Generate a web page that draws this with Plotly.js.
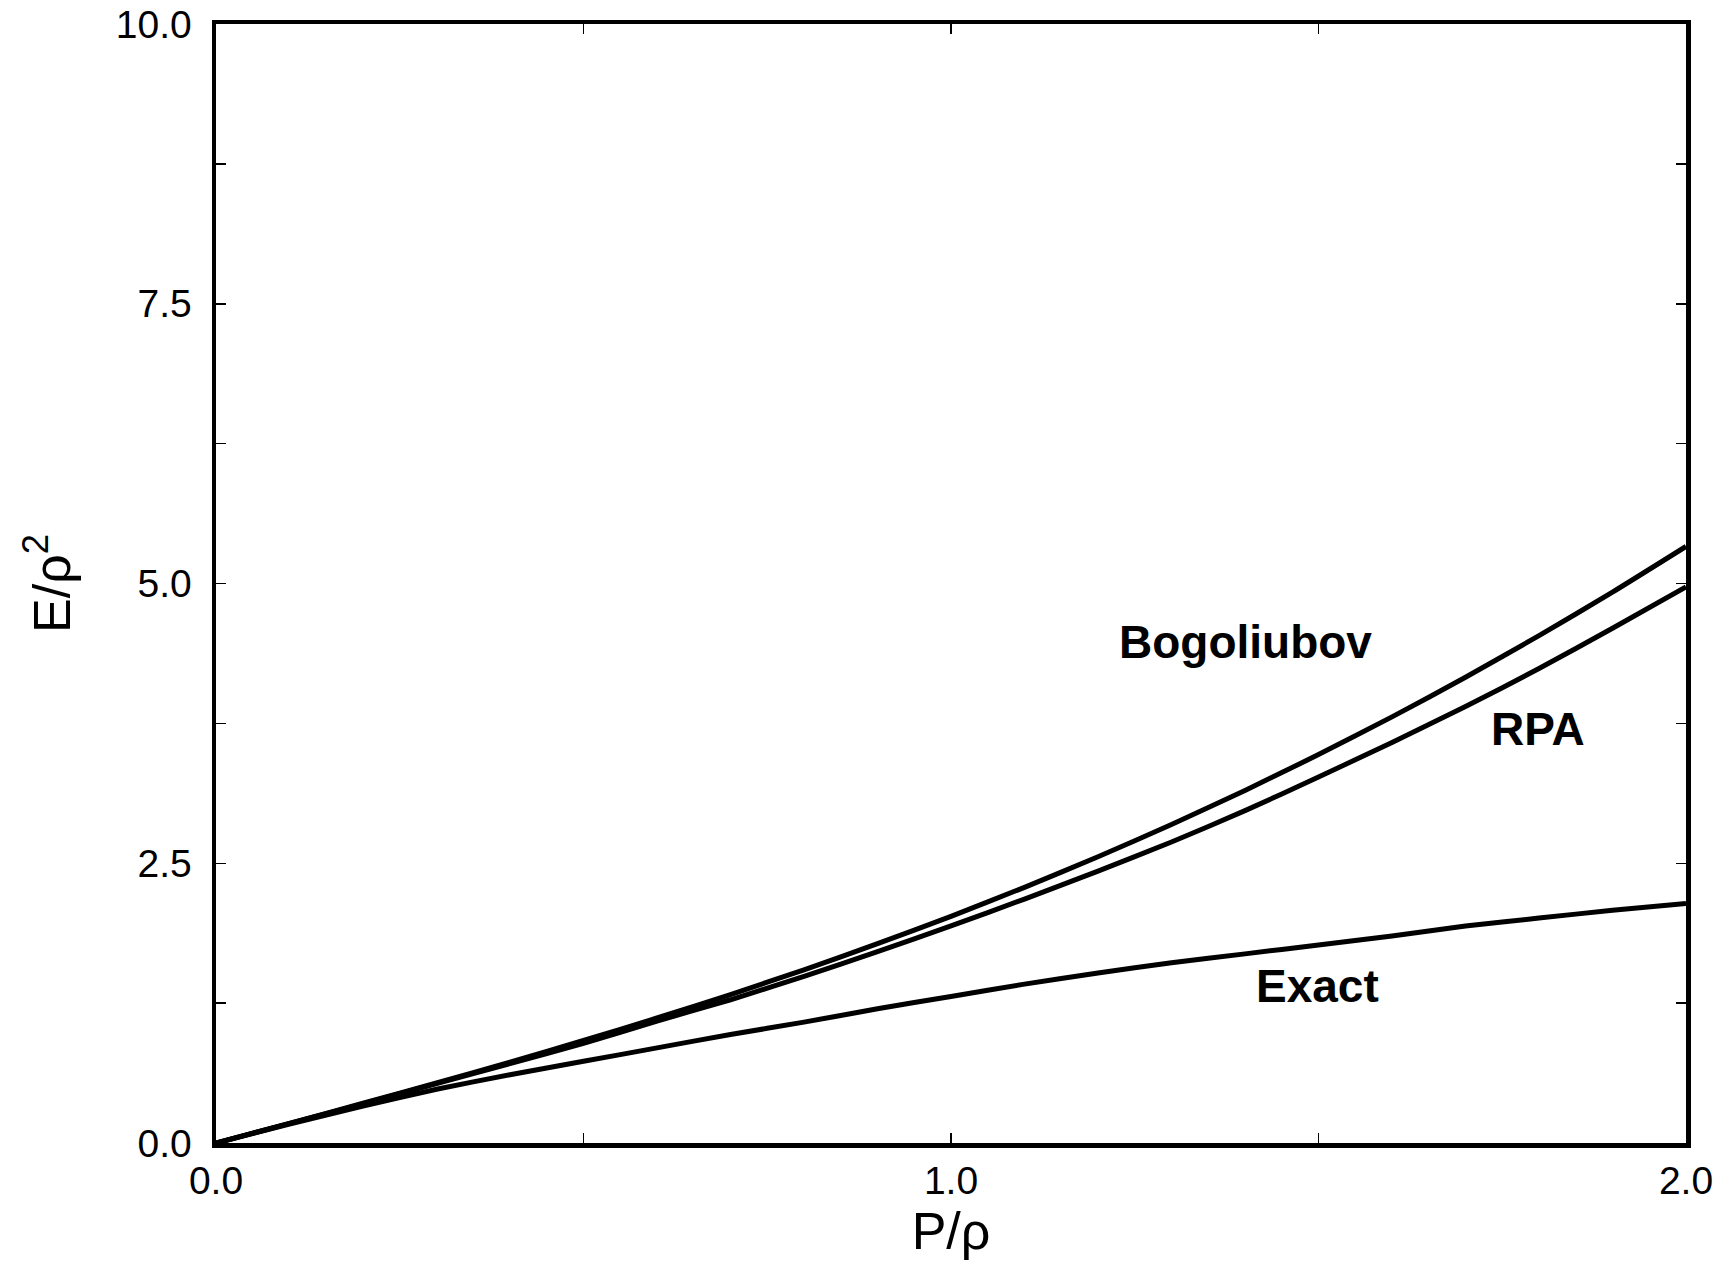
<!DOCTYPE html>
<html>
<head>
<meta charset="utf-8">
<script src="https://cdn.plot.ly/plotly-3.0.1.min.js"></script>
<style>
html, body { margin: 0; padding: 0; background: #fff; }
#chart { width: 1727px; height: 1261px; }
</style>
</head>
<body>
<div id="chart"></div>
<script>
// Momentum P/rho
const momentum = [0, 0.1, 0.2, 0.3, 0.4, 0.5, 0.6, 0.7, 0.8, 0.9, 1.0,
                  1.1, 1.2, 1.3, 1.4, 1.5, 1.6, 1.7, 1.8, 1.9, 2.0];
// Energy E/rho^2
const bogoliubov = [0, 0.176, 0.355, 0.536, 0.723, 0.916, 1.117, 1.327, 1.548, 1.781, 2.026,
                    2.285, 2.558, 2.846, 3.151, 3.471, 3.808, 4.162, 4.534, 4.923, 5.331];
const rpa = [0, 0.175, 0.35, 0.53, 0.71, 0.89, 1.09, 1.28, 1.49, 1.71, 1.94,
             2.18, 2.43, 2.69, 2.97, 3.27, 3.58, 3.90, 4.24, 4.60, 4.97];
const exact = [0, 0.17, 0.33, 0.48, 0.61, 0.73, 0.85, 0.97, 1.08, 1.20, 1.31,
               1.42, 1.52, 1.61, 1.69, 1.77, 1.85, 1.94, 2.01, 2.08, 2.14];

const xTickVals = [0, 1.0, 2.0];
const xTickText = ['0.0', '1.0', '2.0'];
const yTickVals = [0, 2.5, 5.0, 7.5, 10.0];
const yTickText = ['0.0', '2.5', '5.0', '7.5', '10.0'];

const curveLabels = [
  {text: 'Bogoliubov', x: 1.40, y: 4.48},
  {text: 'RPA', x: 1.798, y: 3.70},
  {text: 'Exact', x: 1.498, y: 1.405}
];

const traces = [
  {x: momentum, y: bogoliubov, name: 'Bogoliubov'},
  {x: momentum, y: rpa, name: 'RPA'},
  {x: momentum, y: exact, name: 'Exact'}
].map(t => Object.assign(t, {
  type: 'scatter', mode: 'lines',
  line: {color: '#000', width: 5, shape: 'spline', smoothing: 0.6}
}));

const fontFam = 'Liberation Sans, Arial, Helvetica, sans-serif';

const layout = {
  width: 1727, height: 1261,
  margin: {l: 216, r: 41, t: 24, b: 118, pad: 0},
  paper_bgcolor: '#fff', plot_bgcolor: '#fff',
  showlegend: false,
  font: {family: fontFam, color: '#000'},
  xaxis: {
    range: [0, 2.0], tickvals: xTickVals, ticktext: xTickText,
    ticks: 'inside', ticklen: 10, tickwidth: 1.5, tickcolor: '#000',
    minor: {dtick: 0.5, tick0: 0, ticks: 'inside', ticklen: 10, tickwidth: 1.5, tickcolor: '#000', showgrid: false},
    showline: true, linewidth: 4.5, linecolor: '#000', mirror: 'ticks',
    showgrid: false, zeroline: false,
    tickfont: {size: 39, family: fontFam},
    title: {text: 'P/ρ', font: {size: 52, family: fontFam}, standoff: 0}
  },
  yaxis: {
    range: [0, 10.0], tickvals: yTickVals, ticktext: yTickText,
    ticks: 'inside', ticklen: 10, tickwidth: 1.5, tickcolor: '#000',
    minor: {dtick: 1.25, tick0: 0, ticks: 'inside', ticklen: 10, tickwidth: 1.5, tickcolor: '#000', showgrid: false},
    ticklabelstandoff: 12,
    showline: true, linewidth: 4.5, linecolor: '#000', mirror: 'ticks',
    showgrid: false, zeroline: false,
    tickfont: {size: 39, family: fontFam},
    title: {text: 'E/ρ<sup>2</sup>', font: {size: 52, family: fontFam}, standoff: 30}
  },
  annotations: curveLabels.map(a => ({
    text: '<b>' + a.text + '</b>', x: a.x, y: a.y, xref: 'x', yref: 'y',
    showarrow: false, font: {size: 46, family: fontFam, color: '#000'},
    xanchor: 'center', yanchor: 'middle'
  }))
};

Plotly.newPlot('chart', traces, layout, {displayModeBar: false, staticPlot: true});
</script>
</body>
</html>
